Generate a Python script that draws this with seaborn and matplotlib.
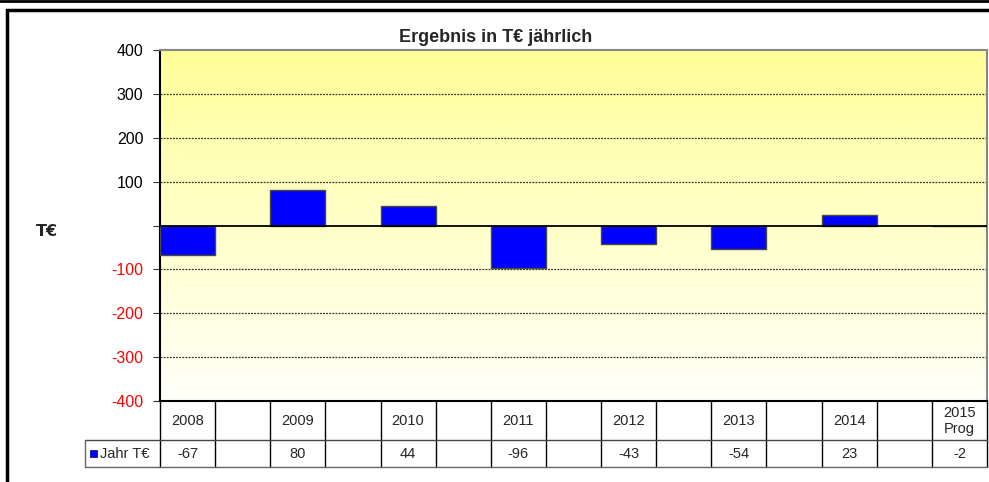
import numpy as np
import pandas as pd
import matplotlib
matplotlib.use("Agg")
import matplotlib.pyplot as plt
import matplotlib.transforms as mtransforms
from matplotlib.patches import Rectangle
from matplotlib.lines import Line2D
import seaborn as sns

# Categories of the chart (empty slots between the years)
categories = ["2008", "", "2009", "", "2010", "", "2011", "", "2012", "", "2013", "", "2014", "", "2015\nProg"]
values = [-67, None, 80, None, 44, None, -96, None, -43, None, -54, None, 23, None, -2]
series_name = "Jahr T€"
y_ticks = [-400, -300, -200, -100, 0, 100, 200, 300, 400]

sns.set_theme(style="white")
plt.rcParams["font.family"] = ["Liberation Sans", "DejaVu Sans"]

W, H = 989, 482
fig = plt.figure(figsize=(W / 100, H / 100), dpi=100)

def fx(px):
    return px / W

def fy(py):
    return 1 - py / H

left, right, top, bottom = 160, 987, 50, 401
ax = fig.add_axes([fx(left), fy(bottom), fx(right - left), (bottom - top) / H])

df = pd.DataFrame({"pos": np.arange(len(categories)),
                   "wert": [np.nan if v is None else v for v in values]})
df_bars = df.dropna()

sns.barplot(data=df_bars, x="pos", y="wert", order=list(range(len(categories))),
            color="#0000FF", saturation=1, width=1.0, edgecolor="#4a4a3a",
            linewidth=1.0, ax=ax, zorder=3)

ax.set_xlim(-0.5, len(categories) - 0.5)
ax.set_ylim(-400, 400)

# gradient background
grad = np.linspace(0, 1, 256).reshape(-1, 1)
top_c = np.array([255, 255, 153]) / 255
bot_c = np.array([255, 255, 250]) / 255
img = top_c[None, None, :] * (1 - grad[:, :, None]) + bot_c[None, None, :] * grad[:, :, None]
ax.imshow(img, extent=(-0.5, len(categories) - 0.5, -400, 400), aspect="auto",
          origin="upper", zorder=0)

# grid lines
for yv in [-300, -200, -100, 100, 200, 300]:
    ax.axhline(yv, color="#333333", lw=0.9, ls=(0, (1.5, 1)), zorder=1)
ax.axhline(0, color="black", lw=1.3, zorder=4)

ax.set_yticks(y_ticks)
ax.set_yticklabels([str(t) if t != 0 else "" for t in y_ticks], fontsize=11.5)
for lbl, t in zip(ax.get_yticklabels(), y_ticks):
    lbl.set_color("red" if t < 0 else "black")
ax.tick_params(axis="y", left=True, length=5, width=0.8, color="#333333", pad=7)
ax.set_xticks([])
ax.set_xlabel("")
ax.set_ylabel("")

for side in ["left", "bottom"]:
    ax.spines[side].set_color("black")
    ax.spines[side].set_linewidth(1.5)
for side in ["top", "right"]:
    ax.spines[side].set_color("#888888")
    ax.spines[side].set_linewidth(1.5)

# title and axis label
fig.text(fx(496), fy(37), "Ergebnis in T€ jährlich", ha="center", va="center",
         fontsize=13, fontweight="bold")
fig.text(fx(47), fy(231), "T€", ha="center", va="center", fontsize=11.5,
         fontweight="bold", family=["DejaVu Sans"])

# data table below the plot
tr = mtransforms.blended_transform_factory(ax.transData, fig.transFigure)
row1_top, row1_bot, row2_bot = bottom, 440, 467
n = len(categories)
for i in range(n + 1):
    xb = i - 0.5
    ax.add_line(Line2D([xb, xb], [fy(row1_top), fy(row2_bot)], transform=tr,
                       color="black", lw=1.0, clip_on=False, zorder=5))
fig.add_artist(Line2D([fx(85), fx(right)], [fy(row1_bot), fy(row1_bot)],
                      color="#444444", lw=1.0))
fig.add_artist(Line2D([fx(85), fx(right)], [fy(row2_bot), fy(row2_bot)],
                      color="#666666", lw=1.0))
fig.add_artist(Line2D([fx(85), fx(85)], [fy(row1_bot), fy(row2_bot)],
                      color="#666666", lw=1.0))

for i, (cat, v) in enumerate(zip(categories, values)):
    ax.text(i, fy((row1_top + row1_bot) / 2 + 0.5), cat, transform=tr, ha="center",
            va="center", fontsize=10.5, linespacing=1.2, clip_on=False)
    if v is not None:
        ax.text(i, fy((row1_bot + row2_bot) / 2), str(v), transform=tr, ha="center",
                va="center", fontsize=10.5, clip_on=False)

fig.add_artist(Rectangle((fx(90), fy(457)), fx(7), 7 / H, facecolor="#0000FF",
                         edgecolor="#000080", lw=0.5))
fig.text(fx(100), fy(453.5), series_name, ha="left", va="center", fontsize=10.5)

# outer frame
fig.add_artist(Rectangle((fx(7), fy(500)), fx(1000), (500 - 10) / H, fill=False,
                         edgecolor="black", lw=2.5))
fig.add_artist(Line2D([0, 1], [fy(0.5), fy(0.5)], color="black", lw=2))

fig.savefig("out.png", dpi=100)
